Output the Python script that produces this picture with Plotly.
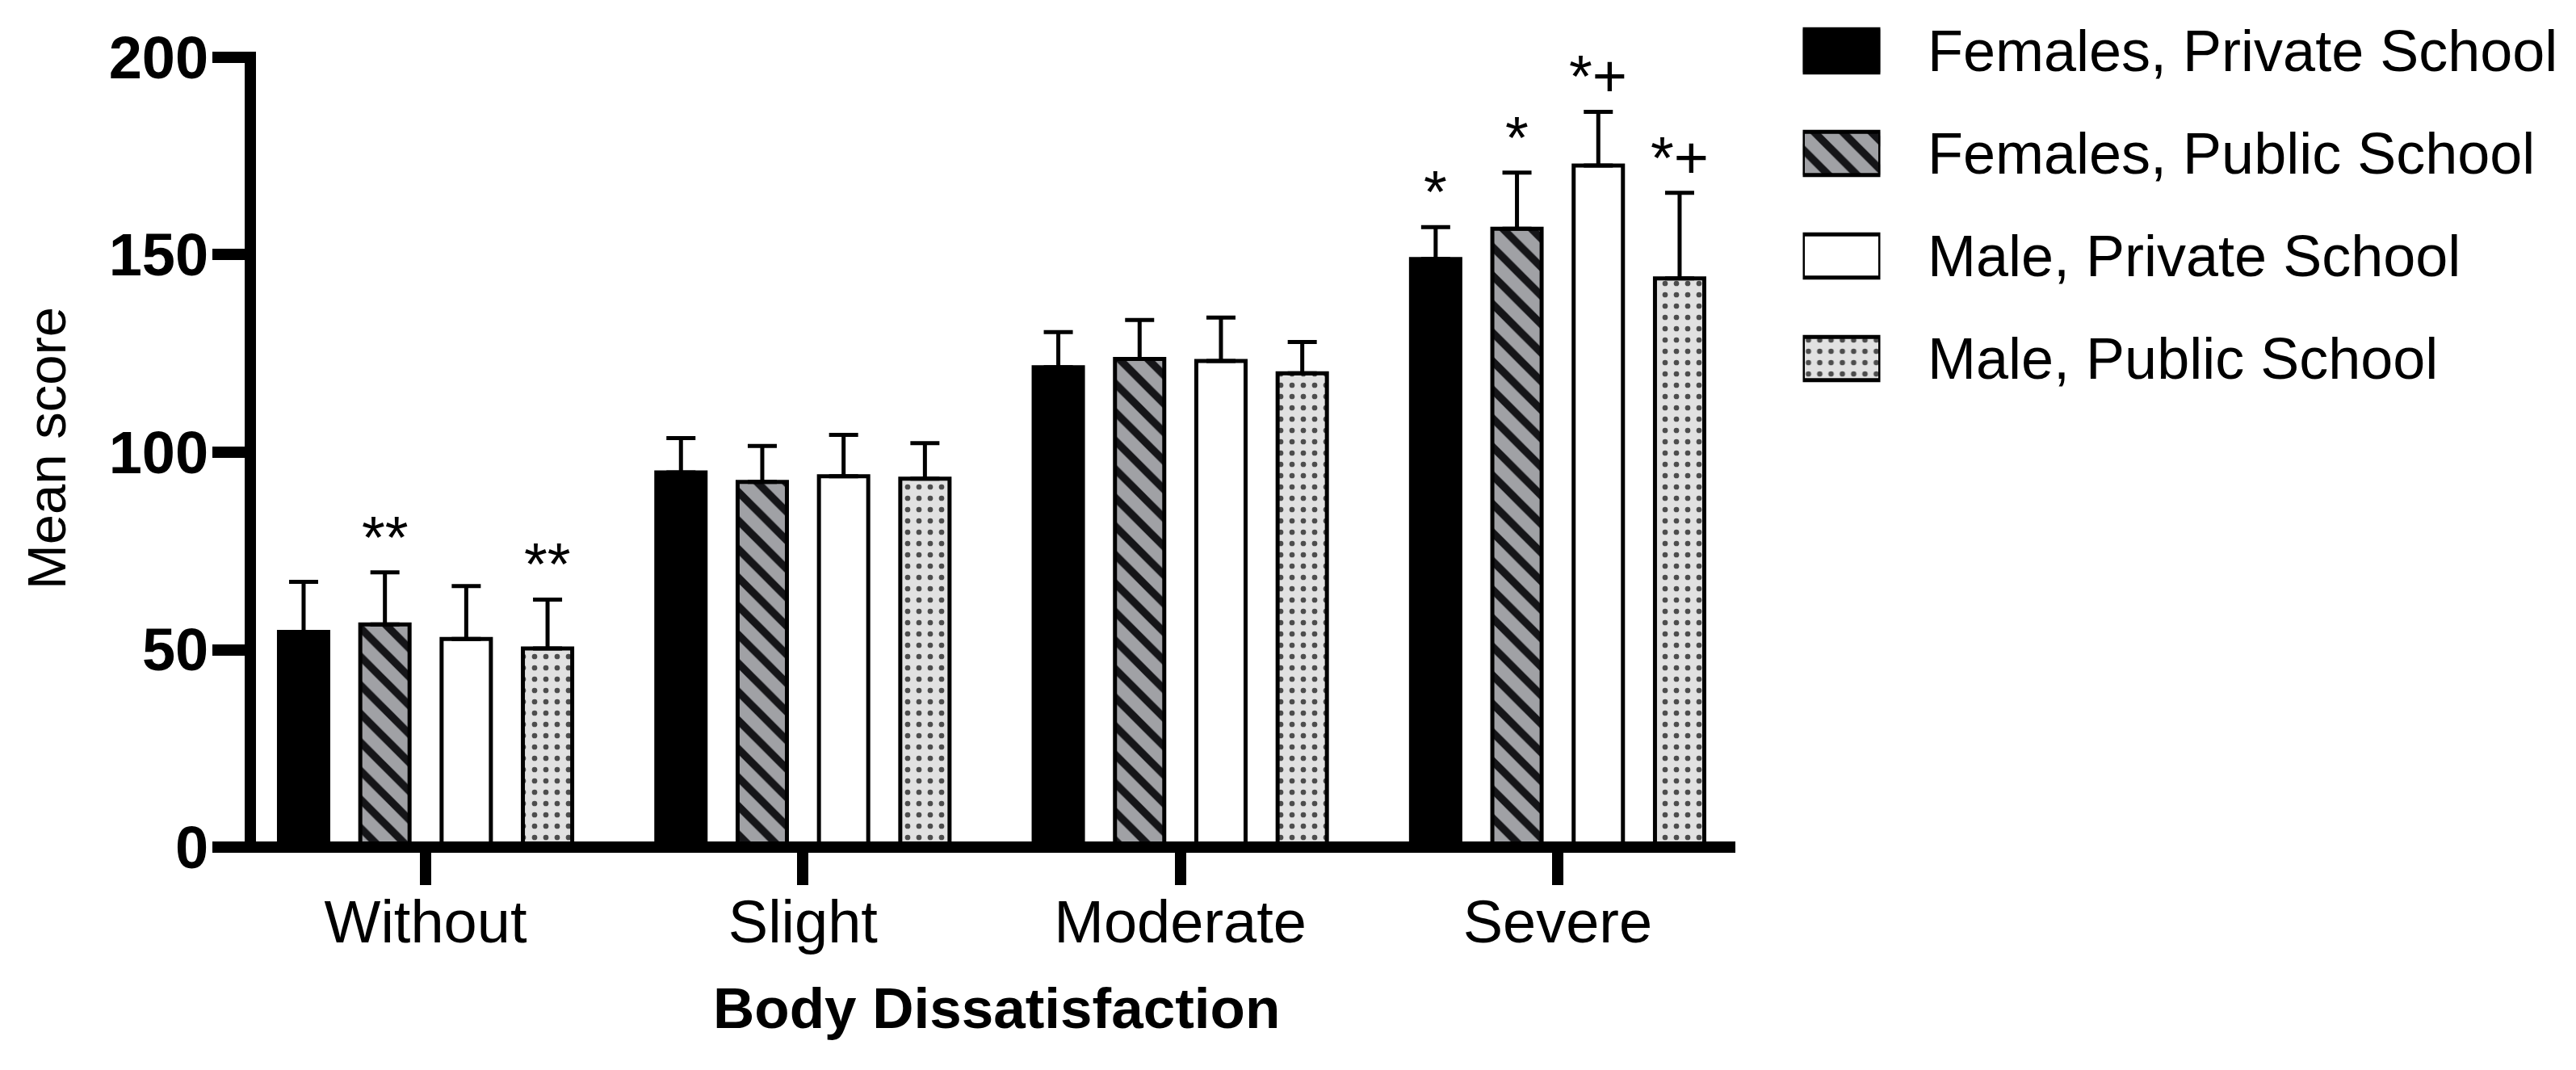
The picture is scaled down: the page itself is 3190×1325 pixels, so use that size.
import plotly.graph_objects as go

# ---------------- data ----------------
categories = ["Without", "Slight", "Moderate", "Severe"]
series_names = ["Females, Private School", "Females, Public School",
                "Male, Private School", "Male, Public School"]

fem_priv_mean = [54.5, 94.9, 121.5, 148.9]
fem_priv_err = [12.7, 8.7, 8.9, 8.1]
fem_pub_mean = [56.4, 92.5, 123.6, 156.6]
fem_pub_err = [13.2, 9.1, 9.9, 14.2]
male_priv_mean = [52.7, 93.9, 123.1, 172.6]
male_priv_err = [13.4, 10.5, 11.0, 13.6]
male_pub_mean = [50.3, 93.3, 120.0, 144.0]
male_pub_err = [12.4, 9.0, 7.9, 21.7]

# significance marks: (series index, category index) -> label
signif_marks = {(1, 0): "**", (3, 0): "**",
                (0, 3): "*", (1, 3): "*", (2, 3): "*+", (3, 3): "*+"}

y_ticks = [0, 50, 100, 150, 200]
y_title = "Mean score"
x_title = "Body Dissatisfaction"

means = [fem_priv_mean, fem_pub_mean, male_priv_mean, male_pub_mean]
errs = [fem_priv_err, fem_pub_err, male_priv_err, male_pub_err]

# ---------------- styles / layout geometry ----------------
W, H = 3190, 1325
OFF = 8  # page body margin offset compensation (px)
FONT = "Liberation Sans, Arial, sans-serif"
styles = [
    dict(color="#000000", pattern=None),
    dict(color="#a0a1a5", pattern=dict(shape="\\", fgcolor="#151518", bgcolor="#a0a1a5",
                                       size=25, solidity=0.38, fillmode="replace")),
    dict(color="#ffffff", pattern=None),
    dict(color="#e1e1e1", pattern=dict(shape=".", fgcolor="#4d4d4d", bgcolor="#e1e1e1",
                                       size=14, solidity=0.18, fillmode="replace")),
]
BARGAP = 0.138
GROUPGAP = 0.394


def px(v):
    return (v - OFF) / W


def py(v):
    return (H - (v - OFF)) / H


def marker_for(i):
    m = dict(color=styles[i]["color"], line=dict(color="black", width=5))
    if styles[i]["pattern"] is not None:
        m["pattern"] = styles[i]["pattern"]
    return m


fig = go.Figure()

for i, name in enumerate(series_names):
    fig.add_trace(go.Bar(
        name=name, x=categories, y=means[i],
        marker=marker_for(i),
        error_y=dict(type="data", symmetric=False, array=errs[i],
                     arrayminus=[0] * len(categories),
                     color="black", thickness=5, width=18),
        showlegend=False, xaxis="x", yaxis="y", hoverinfo="skip",
    ))

# legend swatches drawn as bars on a hidden helper axis
for i, name in enumerate(series_names):
    fig.add_trace(go.Bar(
        orientation="h", y=[i], x=[1], base=[0], width=0.42,
        marker=marker_for(i), showlegend=False,
        xaxis="x2", yaxis="y2", hoverinfo="skip",
    ))

annotations = []
slot = (1 - BARGAP) / len(series_names)
for (si, ci), txt in signif_marks.items():
    annotations.append(dict(
        x=ci + (si - 1.5) * slot, y=means[si][ci] + errs[si][ci],
        xref="x", yref="y", text=txt, showarrow=False,
        xanchor="center", yanchor="bottom", yshift=0,
        font=dict(family=FONT, size=74, color="black"),
    ))

for i, name in enumerate(series_names):
    annotations.append(dict(
        x=px(2385), y=i, xref="paper", yref="y2", text=name, showarrow=False,
        xanchor="left", yanchor="middle",
        font=dict(family=FONT, size=72, color="black"),
    ))

annotations.append(dict(
    x=px(57), y=py(555), xref="paper", yref="paper", text=y_title,
    showarrow=False, textangle=-90, xanchor="center", yanchor="middle",
    font=dict(family=FONT, size=67, color="black"),
))
annotations.append(dict(
    x=px(1234), y=py(1248), xref="paper", yref="paper", text=x_title,
    showarrow=False, xanchor="center", yanchor="middle",
    font=dict(family=FONT, size=71, color="black", weight="bold"),
))

fig.update_layout(
    width=W, height=H,
    margin=dict(l=0, r=0, t=0, b=0, pad=0, autoexpand=False),
    paper_bgcolor="white", plot_bgcolor="white",
    barmode="group", bargap=BARGAP, bargroupgap=GROUPGAP,
    showlegend=False,
    font=dict(family=FONT, color="black"),
    xaxis=dict(
        domain=[px(263), px(2149)], anchor="free", position=py(1049),
        type="category", categoryorder="array", categoryarray=categories,
        range=[-0.565, 3.471], automargin=False,
        showline=True, linewidth=14, linecolor="black",
        ticks="outside", ticklen=40, tickwidth=14, tickcolor="black",
        ticklabelstandoff=-18,
        tickfont=dict(family=FONT, size=74, color="black"),
        showgrid=False, zeroline=False, fixedrange=True,
    ),
    yaxis=dict(
        domain=[py(1049), py(64)], anchor="free", position=px(310),
        range=[0, 201.43], automargin=False,
        tickmode="array", tickvals=y_ticks, ticktext=[str(v) for v in y_ticks],
        showline=True, linewidth=14, linecolor="black",
        ticks="outside", ticklen=40, tickwidth=14, tickcolor="black",
        ticklabelstandoff=-10,
        tickfont=dict(family=FONT, size=74, color="black", weight="bold"),
        showgrid=False, zeroline=False, fixedrange=True,
    ),
    xaxis2=dict(domain=[px(2232.5), px(2328.5)], anchor="y2", range=[0, 1],
                visible=False, fixedrange=True, automargin=False),
    yaxis2=dict(domain=[py(508), 1.0], anchor="x2", range=[3.504, -0.433],
                visible=False, fixedrange=True, automargin=False),
    annotations=annotations,
)

fig.write_html("out.html")
